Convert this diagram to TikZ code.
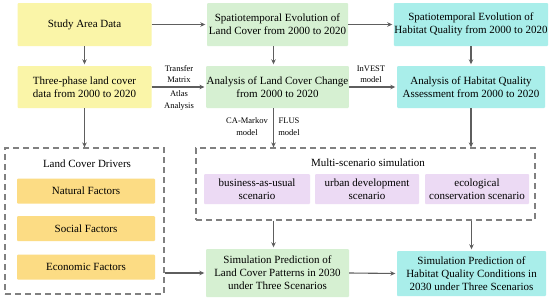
\documentclass[tikz,border=0pt]{standalone}
\usepackage{fontspec}
\setmainfont{Liberation Serif}
\usetikzlibrary{arrows.meta,calc}
\definecolor{cyel}{HTML}{FAF5A8}
\definecolor{cgrn}{HTML}{D6F0D2}
\definecolor{ccyn}{HTML}{A9EEEA}
\definecolor{cfac}{HTML}{FCDC84}
\definecolor{cpur}{HTML}{ECDAF4}
\definecolor{carr}{HTML}{5E5E5E}
\definecolor{cdash}{HTML}{808080}
\begin{document}
\begin{tikzpicture}[x=1pt,y=-1pt,
  box/.style={inner sep=0.5pt,align=center,font=\fontsize{11}{13}\selectfont,rounded corners=1pt},
  ybox/.style={box,fill=cyel},
  gbox/.style={box,fill=cgrn},
  cbox/.style={box,fill=ccyn},
  fbox/.style={box,fill=cfac,minimum width=138pt,minimum height=25pt},
  pbox/.style={box,fill=cpur,minimum height=30pt},
  dbox/.style={draw=cdash,line width=1.2pt,dash pattern=on 6pt off 4pt},
  arr/.style={draw=carr,line width=1.1pt,-{Stealth[length=5pt,width=4.5pt]}},
  lbl/.style={font=\fontsize{8.5}{11.5}\selectfont,align=center,inner sep=0pt},
  ttl/.style={font=\fontsize{11}{13}\selectfont,inner sep=0pt}]
\useasboundingbox (0,0) rectangle (550,300);
\fill[white] (0,0) rectangle (550,300);
% top rows
\node[ybox,minimum width=134pt,minimum height=43pt] (y1) at (84.5,24.5) {Study Area Data};
\node[ybox,minimum width=134pt,minimum height=42pt] (y2) at (84.5,87) {Three-phase land cover\\data from 2000 to 2020};
\node[gbox,minimum width=141pt,minimum height=43pt] (g1) at (277.5,24.5) {Spatiotemporal Evolution of\\Land Cover from 2000 to 2020};
\node[gbox,minimum width=141pt,minimum height=42pt] (g2) at (277.5,87) {Analysis of Land Cover Change\\from 2000 to 2020};
\node[cbox,minimum width=148pt,minimum height=43pt] (c1) at (471,24.5) {Spatiotemporal Evolution of\\Habitat Quality from 2000 to 2020};
\node[cbox,minimum width=148pt,minimum height=42pt] (c2) at (471,87) {Analysis of Habitat Quality\\Assessment from 2000 to 2020};
% drivers
\node[dbox,minimum width=159pt,minimum height=146pt] (drv) at (84.5,221) {};
\node[ttl] (drvt) at (87,164) {Land Cover Drivers};
\node[fbox] (nat) at (86,191) {Natural Factors};
\node[fbox] (soc) at (86,228.5) {Social Factors};
\node[fbox] (eco) at (86,267) {Economic Factors};
% multi-scenario
\node[dbox,minimum width=339pt,minimum height=72pt] (ms) at (365.5,184) {};
\node[ttl] (mst) at (368,163) {Multi-scenario simulation};
\node[pbox,minimum width=106pt] (bau) at (257,189) {business-as-usual\\scenario};
\node[pbox,minimum width=104pt] (urb) at (367,189) {urban development\\scenario};
\node[pbox,minimum width=104pt] (ecs) at (477,189) {ecological\\conservation scenario};
% bottom
\node[gbox,minimum width=143pt,minimum height=48pt] (s1) at (277.5,273) {Simulation Prediction of\\Land Cover Patterns in 2030\\under Three Scenarios};
\node[cbox,minimum width=149pt,minimum height=45pt] (s2) at (471.5,273.5) {Simulation Prediction of\\Habitat Quality Conditions in\\2030 under Three Scenarios};
% arrows
\draw[arr,shorten >=1.5pt] (y1.east) -- (g1.west);
\draw[arr,shorten >=1.5pt] (g1.east) -- (c1.west);
\draw[arr,shorten >=1.5pt] (y2.east) -- (g2.west);
\draw[arr,shorten >=1.5pt] (g2.east) -- (c2.west);
\draw[arr,shorten >=1.5pt] (y1.south) -- (y2.north);
\draw[arr,shorten >=1.5pt] ([xshift=-4pt]g1.south) -- ([xshift=-4pt]g2.north);
\draw[arr,shorten >=1.5pt] (c1.south) -- (c2.north);
\draw[arr] (y2.south) -- (drv.north);
\draw[arr] ([xshift=-4pt]g2.south) -- ([xshift=-4pt]g2.south |- ms.north);
\draw[arr] (c2.south) -- (c2.south |- ms.north);
\draw[arr,shorten >=1.5pt] ([xshift=-4pt]s1.north |- ms.south) -- ([xshift=-4pt]s1.north);
\draw[arr,shorten >=1.5pt] (s2.north |- ms.south) -- (s2.north);
\draw[arr,shorten >=1.5pt] (s1.west -| drv.east) -- (s1.west);
\draw[arr,shorten >=1.5pt] (s1.east) -- (s2.west);
% labels
\node[lbl] (l1) at (179,74) {Transfer\\Matrix};
\node[lbl] (l2) at (179,100.5) {Atlas\\Analysis};
\node[lbl] (l3) at (371,74) {InVEST\\model};
\node[lbl] (l4) at (247,126.5) {CA-Markov\\model};
\node[lbl] (l5) at (289,126.5) {FLUS\\model};
\end{tikzpicture}
\end{document}
